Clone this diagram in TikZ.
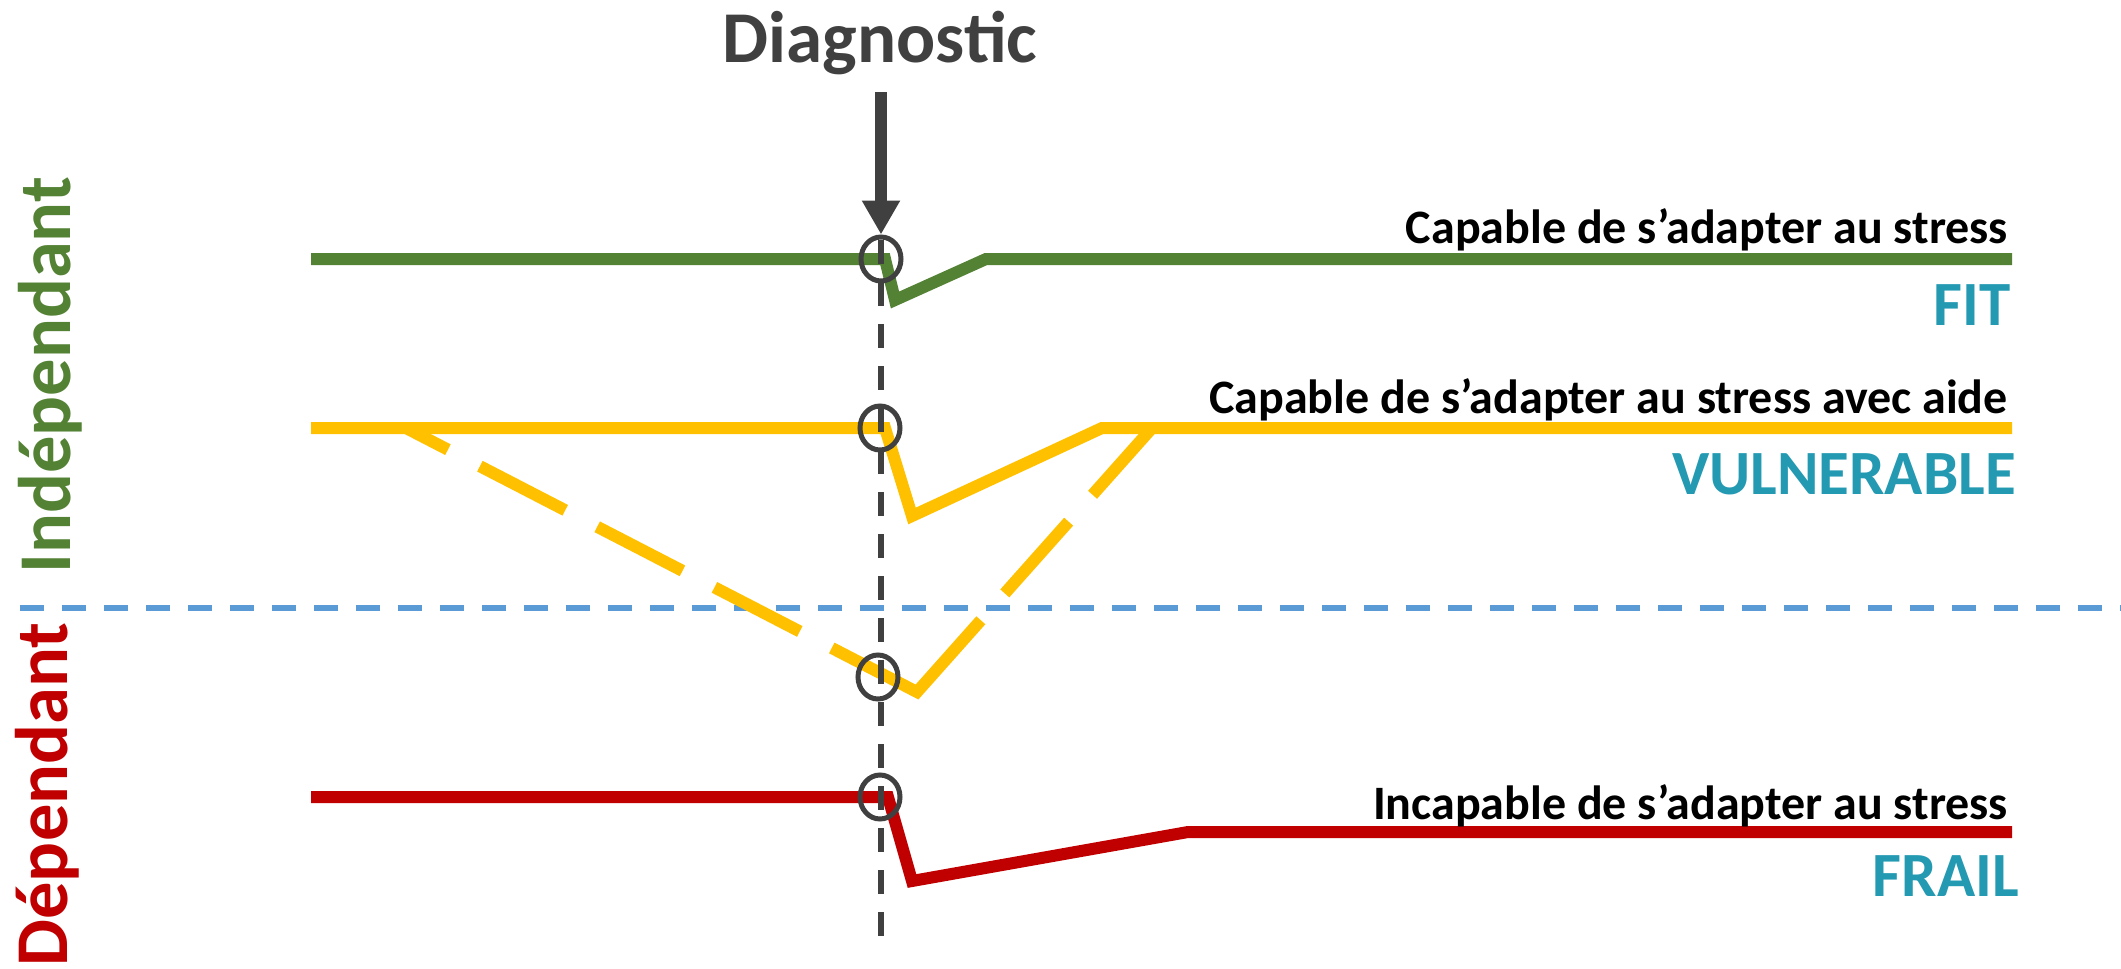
\documentclass[tikz,border=0pt]{standalone}
\usepackage{fontspec}
\setmainfont{Carlito}
\usetikzlibrary{arrows.meta,shapes.geometric}

\definecolor{fitgreen}{RGB}{84,130,53}
\definecolor{vulnyellow}{RGB}{255,192,0}
\definecolor{frailred}{RGB}{192,0,0}
\definecolor{splitblue}{RGB}{91,155,213}
\definecolor{darkgrey}{RGB}{64,64,64}
\definecolor{classteal}{RGB}{35,153,178}

\begin{document}
\begin{tikzpicture}[x=1pt,y=-1pt,
  track/.style={line width=12pt, line join=miter, miter limit=10},
  ring/.style={ellipse, draw=darkgrey, line width=5pt, minimum width=40pt,
    minimum height=44pt, inner sep=0pt},
  guide/.style={line width=6pt, dash pattern=on 24pt off 18pt},
  diagarrow/.style={draw=darkgrey, line width=12pt,
    -{Triangle[width=36pt,length=34pt]}},
  caption/.style={font=\bfseries\fontsize{48}{52}\selectfont, anchor=base east,
    inner sep=0pt},
  classname/.style={font=\bfseries\fontsize{63}{68}\selectfont, text=classteal,
    anchor=base east, inner sep=0pt},
  axislabel/.style={font=\bfseries\fontsize{74.5}{80}\selectfont, rotate=90,
    anchor=base, inner sep=0pt}
]
\useasboundingbox (0,0) rectangle (2121,969);

% independence threshold
\coordinate (splitL) at (20,608);
\coordinate (splitR) at (2121,608);
\draw[guide, draw=splitblue] (splitL) -- (splitR);

% slow decline of the vulnerable trajectory
\coordinate (slowL) at (406,428);
\coordinate (slowV) at (917,692);
\coordinate (slowR) at (1152,428);
\draw[track, draw=vulnyellow,
  dash pattern=on 96pt off 36pt on 96pt off 36pt on 96pt off 36pt on 96pt off 36pt
    on 192pt off 36pt on 96pt off 36pt on 400pt off 36pt,
  dash phase=48.8pt] (slowL) -- (slowV) -- (slowR);

% trajectories
\draw[track, draw=fitgreen] (311,259) -- (885,259) -- (895,300) -- (986,259) -- (2012,259);
\draw[track, draw=vulnyellow] (311,428) -- (885,428) -- (912,516) -- (1102,428) -- (2012,428);
\draw[track, draw=frailred] (311,797) -- (888,797) -- (912,881) -- (1188,832) -- (2012,832);

% time of diagnosis
\coordinate (diagTop) at (881,240);
\coordinate (diagBottom) at (881,936);
\draw[guide, draw=darkgrey] (diagTop) -- (diagBottom);

\node[ring] (cg) at (881,259) {};
\node[ring] (cy) at (880,428) {};
\node[ring] (cyd) at (878,677) {};
\node[ring] (cr) at (880,797) {};

\node[font=\bfseries\fontsize{73}{80}\selectfont, text=darkgrey, anchor=base,
  inner sep=0pt] (diag) at (880,62) {Diagnostic};
\coordinate (arrowTop) at (881,92);
\draw[diagarrow] (arrowTop) -- (cg.north);

% captions
\node[caption] (capfit) at (2008,243) {Capable de s’adapter au stress};
\node[caption] (capvuln) at (2008,413) {Capable de s’adapter au stress avec aide};
\node[caption] (capfrail) at (2008,819) {Incapable de s’adapter au stress};

\node[classname] (fit) at (2011,325) {FIT};
\node[classname] (vuln) at (2016,494) {VULNERABLE};
\node[classname] (frail) at (2019,896) {FRAIL};

% side axis
\node[axislabel, text=fitgreen] (indep) at (70,375.5) {Indépendant};
\node[axislabel, text=frailred] (dep) at (67,794.5) {Dépendant};
\end{tikzpicture}
\end{document}
